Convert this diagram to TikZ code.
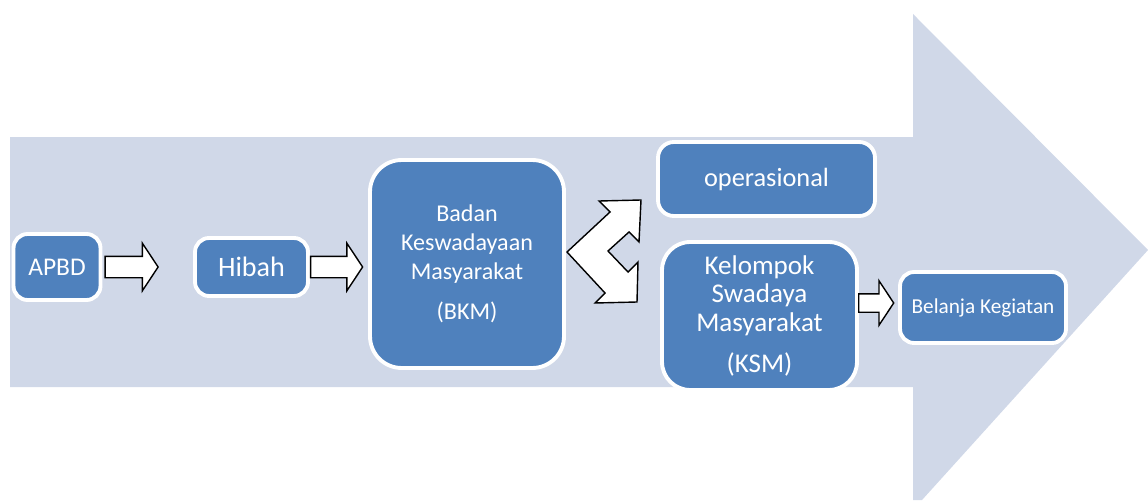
\documentclass[tikz,border=0pt]{standalone}
\usepackage{fontspec}
\setmainfont{Carlito}
\usetikzlibrary{shapes.arrows,calc}
\definecolor{bandblue}{HTML}{D0D8E8}
\definecolor{boxblue}{HTML}{4F81BD}
\tikzset{
  box/.style={draw=white, line width=2.2pt, fill=boxblue, rounded corners=#1,
    text=white, align=center, inner sep=0pt},
  box/.default=8pt,
  blockarrow/.style={single arrow, draw=black, fill=white, line width=0.8pt,
    inner xsep=0pt, inner ysep=0.2cm, single arrow head extend=0.26cm,
    single arrow tip angle=113, anchor=west}
}

\begin{document}
\begin{tikzpicture}[x=0.02cm, y=-0.02cm]
\useasboundingbox (0,0) rectangle (1148,500);
% big background arrow
\fill[bandblue] (10,137) -- (913,137) -- (913,14) -- (1148,250) -- (922,500) -- (913,500) -- (913,387) -- (10,387) -- cycle;

\node[box, minimum width=1.74cm, minimum height=1.32cm, font=\fontsize{14.5}{17}\selectfont] (apbd) at (57,267) {APBD};
\node[box, minimum width=2.26cm, minimum height=1.16cm, font=\fontsize{16}{19}\selectfont] (hibah) at (251.5,267) {Hibah};
\node[box=18pt, minimum width=3.88cm, minimum height=4.16cm, font=\fontsize{13.7}{16.4}\selectfont] (bkm) at (467,264) {Badan\\Keswadayaan\\Masyarakat\\[6.8pt](BKM)};
\node[box=9pt, minimum width=4.34cm, minimum height=1.48cm, font=\fontsize{15}{17}\selectfont] (ops) at (766.5,179) {operasional};
\node[box=16pt, minimum width=3.9cm, minimum height=2.96cm, font=\fontsize{15.4}{16.2}\selectfont] (ksm) at (759.5,316) {Kelompok\\Swadaya\\Masyarakat\\[7.6pt](KSM)};
\node[box, minimum width=3.32cm, minimum height=1.42cm, font=\fontsize{12.1}{14}\selectfont] (belanja) at (983,307.5) {Belanja Kegiatan};

% block arrows
\node[blockarrow, minimum height=1.06cm, minimum width=0.92cm] (a1) at ($(apbd.east)+(2,0)$) {};
\node[blockarrow, minimum height=1.04cm, minimum width=0.92cm] (a2) at ($(hibah.east)+(0,0)$) {};
\node[blockarrow, minimum height=0.70cm, minimum width=0.86cm, inner ysep=0.17cm] (a3) at (858,303) {};

% fork arrow from BKM
\draw[fill=white, line width=0.8pt, line join=miter] (567,252) -- (610,212) -- (599,201) -- (641,200) -- (639,242) -- (629,232) -- (608,251) -- (628,272) -- (638,262) -- (637,302) -- (595,303) -- (605,293) -- cycle;
\end{tikzpicture}
\end{document}
